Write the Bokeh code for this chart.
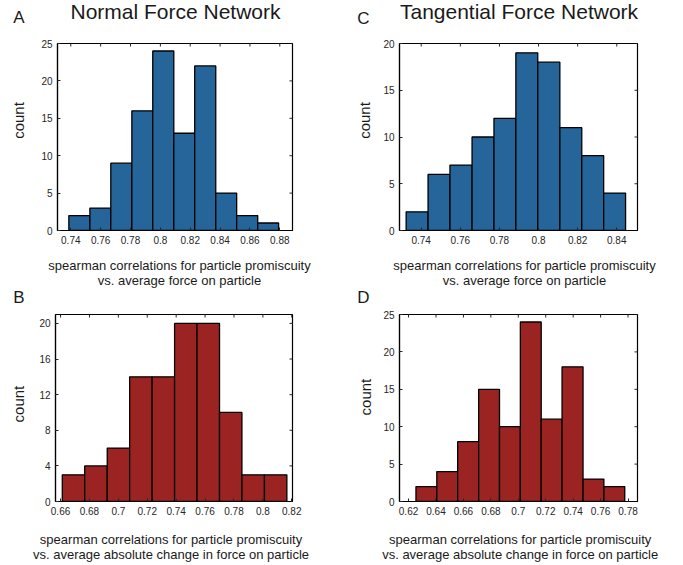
import math
from bokeh.plotting import figure
from bokeh.layouts import column, row
from bokeh.models import Range1d, FixedTicker, Label, CustomJSTickFormatter
from bokeh.embed import file_html
from bokeh.resources import INLINE

# ---------------- data ----------------
# Panel A: Normal force network, promiscuity vs average force
a_edges = [0.7387, 0.7528, 0.7668, 0.7809, 0.7949, 0.8090, 0.8230, 0.8371, 0.8511, 0.8652, 0.8792]
a_counts = [2, 3, 9, 16, 24, 13, 22, 5, 2, 1]
a_xticks = [0.74, 0.76, 0.78, 0.80, 0.82, 0.84, 0.86, 0.88]
a_yticks = [0, 5, 10, 15, 20, 25]

# Panel C: Tangential force network, promiscuity vs average force
c_edges = [0.7323, 0.7435, 0.7547, 0.7660, 0.7772, 0.7884, 0.7996, 0.8109, 0.8221, 0.8333, 0.8445]
c_counts = [2, 6, 7, 10, 12, 19, 18, 11, 8, 4]
c_xticks = [0.74, 0.76, 0.78, 0.80, 0.82, 0.84]
c_yticks = [0, 5, 10, 15, 20]

# Panel B: Normal force network, promiscuity vs average absolute change in force
b_edges = [0.6612, 0.6767, 0.6923, 0.7078, 0.7234, 0.7389, 0.7544, 0.7700, 0.7855, 0.8011, 0.8166]
b_counts = [3, 4, 6, 14, 14, 20, 20, 10, 3, 3]
b_xticks = [0.66, 0.68, 0.70, 0.72, 0.74, 0.76, 0.78, 0.80, 0.82]
b_yticks = [0, 4, 8, 12, 16, 20]

# Panel D: Tangential force network, promiscuity vs average absolute change in force
d_edges = [0.6254, 0.6406, 0.6558, 0.6711, 0.6863, 0.7015, 0.7167, 0.7319, 0.7472, 0.7624, 0.7776]
d_counts = [2, 4, 8, 15, 10, 24, 11, 18, 3, 2]
d_xticks = [0.62, 0.64, 0.66, 0.68, 0.70, 0.72, 0.74, 0.76, 0.78]
d_yticks = [0, 5, 10, 15, 20, 25]

panel_letters = ["A", "B", "C", "D"]
title_left = "Normal Force Network"
title_right = "Tangential Force Network"
xlabel_top = ["spearman correlations for particle promiscuity", "vs. average force on particle"]
xlabel_bottom = ["spearman correlations for particle promiscuity",
                 "vs. average absolute change in force on particle"]
ylabel = "count"

BLUE = "#25659a"
RED = "#9b2422"
FONT = "Liberation Sans"
TICK_COLOR = "#262626"
TEXT_COLOR = "#1a1a1a"

fmt = CustomJSTickFormatter(code="return String(+tick.toFixed(4));")


def make_panel(width, height, borders, xr, yr, edges, counts, xticks, yticks, color):
    left, right, top, bottom = borders
    p = figure(width=width, height=height, output_backend="svg", toolbar_location=None,
               x_range=Range1d(*xr), y_range=Range1d(*yr),
               min_border_left=left, min_border_right=right,
               min_border_top=top, min_border_bottom=bottom,
               background_fill_color="white", border_fill_color="white")
    p.xgrid.visible = False
    p.ygrid.visible = False
    p.outline_line_color = "black"
    p.outline_line_width = 1.2
    p.outline_line_alpha = 1.0
    p.quad(left=edges[:-1], right=edges[1:], bottom=0, top=counts,
           fill_color=color, line_color="black", line_width=1.3)
    # mirrored inward ticks on the top and right edges (box on)
    p.scatter(x=xticks, y=[yr[1]] * len(xticks), marker="dash", angle=math.pi / 2,
              size=6, line_color=TICK_COLOR, line_width=1)
    p.scatter(x=[xr[1]] * len(yticks), y=yticks, marker="dash",
              size=6, line_color=TICK_COLOR, line_width=1)
    for ax, ticks in ((p.xaxis[0], xticks), (p.yaxis[0], yticks)):
        ax.ticker = FixedTicker(ticks=ticks)
        ax.formatter = fmt
        ax.major_tick_in = 3
        ax.major_tick_out = 0
        ax.minor_tick_line_color = None
        ax.axis_line_color = "black"
        ax.axis_line_width = 1.2
        ax.major_tick_line_color = TICK_COLOR
        ax.major_label_text_font = FONT
        ax.major_label_text_font_size = "10px"
        ax.major_label_text_color = TICK_COLOR
        ax.major_label_standoff = 5
    return p


def make_strip(width, height):
    s = figure(width=width, height=height, output_backend="svg", toolbar_location=None,
               x_range=Range1d(0, width), y_range=Range1d(height, 0),
               x_axis_type=None, y_axis_type=None,
               min_border=0, min_border_left=0, min_border_right=0,
               min_border_top=0, min_border_bottom=0,
               background_fill_color="white", border_fill_color="white")
    s.outline_line_color = None
    s.xgrid.visible = False
    s.ygrid.visible = False
    return s


def add_text(p, x, y, text, size_px, align="left"):
    # baseline correction measured from the rendered output
    y_adj = y - 0.36 * size_px
    p.add_layout(Label(x=x, y=y_adj, text=text, text_font=FONT, text_font_size=f"{size_px}px",
                       text_align=align, text_baseline="alphabetic", text_color=TEXT_COLOR))


def add_vtext(p, x, y, text, size_px):
    # rotated (reads bottom-to-top); baseline correction goes along +x
    x_adj = x - 0.36 * size_px
    p.add_layout(Label(x=x_adj, y=y, text=text, text_font=FONT, text_font_size=f"{size_px}px",
                       text_align="center", text_baseline="alphabetic", angle=math.pi / 2,
                       text_color=TEXT_COLOR))


# header strip: y 0-37
header = make_strip(683, 37)
add_text(header, 12.7, 23.3, panel_letters[0], 17)
add_text(header, 175, 18.3, title_left, 21, align="center")
add_text(header, 356.7, 24.0, panel_letters[2], 17)
add_text(header, 518.5, 18.3, title_right, 21, align="center")

# row 1: y 37-250
ylA = make_strip(30, 213)
add_vtext(ylA, 23.3, 87.7, ylabel, 15)
pA = make_panel(310, 213, (27, 48, 6, 20), (0.7311, 0.8885), (0, 25),
                a_edges, a_counts, a_xticks, a_yticks, BLUE)
ylC = make_strip(35, 213)
add_vtext(ylC, 29.3, 87.7, ylabel, 15)
pC = make_panel(308, 213, (24, 46, 6, 20), (0.7289, 0.8506), (0, 20),
                c_edges, c_counts, c_xticks, c_yticks, BLUE)

# middle strip: y 250-306
mid = make_strip(683, 56)
add_text(mid, 179, 19.3, xlabel_top[0], 13, align="center")
add_text(mid, 179, 34.3, xlabel_top[1], 13, align="center")
add_text(mid, 524, 19.3, xlabel_top[0], 13, align="center")
add_text(mid, 524, 34.3, xlabel_top[1], 13, align="center")
add_text(mid, 12.7, 53.3, panel_letters[1], 17)
add_text(mid, 356.7, 53.0, panel_letters[3], 17)

# row 2: y 306-520
ylB = make_strip(30, 214)
add_vtext(ylB, 23.3, 102.5, ylabel, 15)
pB = make_panel(310, 214, (25, 48, 8, 19), (0.6565, 0.8205), (0, 21),
                b_edges, b_counts, b_xticks, b_yticks, RED)
ylD = make_strip(35, 214)
add_vtext(ylD, 30.0, 94.5, ylabel, 15)
pD = make_panel(308, 214, (24, 46, 7, 19), (0.6134, 0.7869), (0, 25),
                d_edges, d_counts, d_xticks, d_yticks, RED)

# bottom strip: y 520-565
bottom = make_strip(683, 45)
add_text(bottom, 170.5, 23.3, xlabel_bottom[0], 13, align="center")
add_text(bottom, 170.5, 38.3, xlabel_bottom[1], 13, align="center")
add_text(bottom, 519.7, 23.3, xlabel_bottom[0], 13, align="center")
add_text(bottom, 519.7, 38.3, xlabel_bottom[1], 13, align="center")

layout = column(header, row(ylA, pA, ylC, pC), mid, row(ylB, pB, ylD, pD), bottom)
open("out.html", "w").write(file_html(layout, INLINE))
